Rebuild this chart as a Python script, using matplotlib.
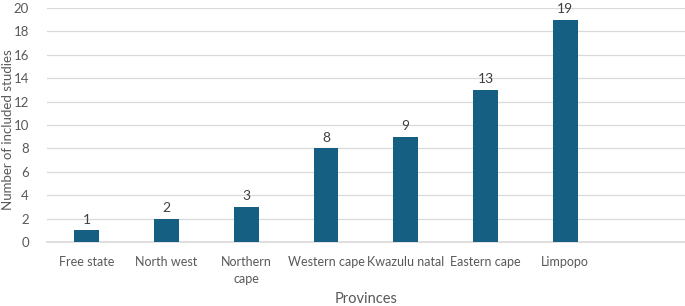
import numpy as np
import matplotlib.pyplot as plt

# data
provinces = ["Free state", "North west", "Northern\ncape", "Western cape",
             "Kwazulu natal", "Eastern cape", "Limpopo", ""]
studies = [1, 2, 3, 8, 9, 13, 19, 0]

plt.rcParams['font.family'] = ['Lato', 'DejaVu Sans']

fig = plt.figure(figsize=(6.85, 3.06), dpi=100)
ax = fig.add_axes([0.0686, 0.209, 0.931, 0.765])

x = np.arange(len(provinces))
n = 7  # last slot empty
bars = ax.bar(x[:n], studies[:n], width=0.31, color='#156082', zorder=3)
for xi, v in zip(x[:n], studies[:n]):
    ax.text(xi, v + 0.4, str(v), ha='center', va='bottom', fontsize=10, color='#404040')

ax.set_xlim(-0.5, len(provinces) - 0.5)
ax.set_ylim(0, 20)
ax.set_yticks(range(0, 21, 2))
ax.set_xticks(x)
ax.set_xticklabels(provinces, fontsize=9, color='#595959', linespacing=1.5)
ax.tick_params(axis='y', labelsize=9.5, labelcolor='#595959', length=0, pad=13)
ax.tick_params(axis='x', length=0, pad=10)

ax.grid(axis='y', color='#D9D9D9', linewidth=0.9, zorder=0)
for s in ['top', 'right', 'left']:
    ax.spines[s].set_visible(False)
ax.spines['bottom'].set_color('#D9D9D9')
ax.spines['bottom'].set_linewidth(1.2)

ax.set_ylabel('Number of included studies', fontsize=9.5, color='#595959')
ax.yaxis.set_label_coords(-0.052, 0.48)
ax.set_xlabel('Provinces', fontsize=10.5, color='#595959')
ax.xaxis.set_label_coords(0.5, -0.215)

fig.savefig('out.png', dpi=100)
